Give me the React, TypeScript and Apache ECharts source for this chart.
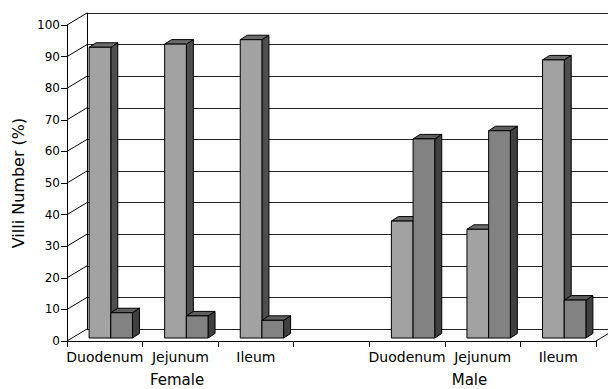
import React, { useEffect, useRef } from "react";
import * as echarts from "echarts";

// Segments along the intestine, with an empty slot separating the two groups
const categories = ["Duodenum", "Jejunum", "Ileum", "", "Duodenum", "Jejunum", "Ileum"];
const groupLabels = ["Female", "Male"];

// Villi share (%) per segment, two series that add up to 100
const lightValues: (number | null)[] = [92, 93, 94.4, null, 37, 34.4, 88];
const darkValues: (number | null)[] = [8, 7, 5.6, null, 63, 65.6, 12];

const yTicks = [0, 10, 20, 30, 40, 50, 60, 70, 80, 90, 100];
const yName = "Villi Number (%)";

const FONT = "DejaVu Sans";

// Perspective of the box: front plane vs back wall
const FRONT = { left: 67, top: 25, width: 529, height: 316 };
const DEPTH = { dx: 20, dy: -12 };
const BACK = {
  left: FRONT.left + DEPTH.dx,
  top: FRONT.top + DEPTH.dy,
  width: FRONT.width,
  height: FRONT.height,
};
// Bars sit a little behind the front plane and have their own thickness
const BAR_SHIFT = { dx: 6, dy: -3 };
const BAR_DEPTH = { dx: 7, dy: -4.5 };
const BAR_WIDTH_RATIO = 0.287;

const LIGHT = { front: "#a2a2a2", side: "#4e4e4e", top: "#6c6c6c" };
const DARK = { front: "#828282", side: "#404040", top: "#5e5e5e" };

const toPoints = (values: (number | null)[]) =>
  values
    .map((v, i) => (v == null ? null : [i, v]))
    .filter((d) => d !== null) as number[][];

const makeBarRenderer =
  (slot: 0 | 1, colors: { front: string; side: string; top: string }) =>
  (_params: any, api: any) => {
    const idx = api.value(0);
    const val = api.value(1);
    const base = api.coord([idx, 0]);
    const top = api.coord([idx, val]);
    const band = api.size([1, 0])[0];
    const w = band * BAR_WIDTH_RATIO;
    const cx = base[0] + BAR_SHIFT.dx;
    const x0 = slot === 0 ? cx - w : cx;
    const x1 = x0 + w;
    const yb = base[1] + BAR_SHIFT.dy;
    const yt = top[1] + BAR_SHIFT.dy;
    const { dx, dy } = BAR_DEPTH;
    const edge = { stroke: "#000", lineWidth: 1 };
    return {
      type: "group",
      children: [
        {
          type: "polygon",
          shape: { points: [[x1, yt], [x1 + dx, yt + dy], [x1 + dx, yb + dy], [x1, yb]] },
          style: { fill: colors.side, ...edge },
        },
        {
          type: "polygon",
          shape: { points: [[x0, yt], [x0 + dx, yt + dy], [x1 + dx, yt + dy], [x1, yt]] },
          style: { fill: colors.top, ...edge },
        },
        {
          type: "rect",
          shape: { x: x0, y: yt, width: w, height: yb - yt },
          style: { fill: colors.front, ...edge },
        },
      ],
    };
  };

// Side wall lines joining each front tick to the back wall, plus the floor's right edge
const renderFrame = (params: any, api: any) => {
  const sys = params.coordSys;
  const y = api.coord([0, api.value(1)])[1];
  const line = (x1: number, y1: number, x2: number, y2: number) => ({
    type: "line",
    shape: { x1, y1, x2, y2 },
    style: { stroke: "#000", lineWidth: 1 },
  });
  const children: any[] = [line(sys.x, y, sys.x + DEPTH.dx, y + DEPTH.dy)];
  if (params.dataIndex === 0) {
    const xr = sys.x + sys.width;
    children.push(line(xr, y, xr + DEPTH.dx, y + DEPTH.dy));
  }
  return { type: "group", children };
};

const option: any = {
  animation: false,
  backgroundColor: "#fff",
  grid: [
    { ...FRONT, containLabel: false },
    { ...BACK, containLabel: false },
  ],
  xAxis: [
    {
      type: "category",
      gridIndex: 0,
      data: categories,
      axisLine: { show: true, lineStyle: { color: "#000", width: 1 } },
      axisTick: { show: true, length: 6, interval: 0, lineStyle: { color: "#000" } },
      axisLabel: {
        interval: 0,
        margin: 9,
        color: "#000",
        fontFamily: FONT,
        fontSize: 14,
      },
      splitLine: { show: false },
    },
    {
      type: "category",
      gridIndex: 1,
      data: categories,
      show: false,
    },
  ],
  yAxis: [
    {
      type: "value",
      gridIndex: 0,
      min: 0,
      max: 100,
      interval: 10,
      name: yName,
      nameLocation: "middle",
      nameGap: 40,
      nameTextStyle: { color: "#000", fontFamily: FONT, fontSize: 16 },
      axisLine: { show: true, lineStyle: { color: "#000", width: 1 } },
      axisTick: { show: true, length: 6, lineStyle: { color: "#000" } },
      axisLabel: { margin: 7, color: "#000", fontFamily: FONT, fontSize: 12 },
      splitLine: { show: false },
    },
    {
      type: "value",
      gridIndex: 1,
      min: 0,
      max: 100,
      interval: 10,
      axisLine: { show: true, lineStyle: { color: "#000", width: 1 } },
      axisTick: { show: false },
      axisLabel: { show: false },
      splitLine: { show: true, lineStyle: { color: "#222", width: 1 } },
    },
  ],
  graphic: groupLabels.map((label, i) => ({
    type: "text",
    x: i === 0 ? 177 : 469.5,
    y: 380,
    style: {
      text: label,
      font: `15px "${FONT}"`,
      fill: "#000",
      textAlign: "center",
      textVerticalAlign: "middle",
      align: "center",
      verticalAlign: "middle",
    },
  })),
  series: [
    {
      type: "custom",
      name: "frame",
      xAxisIndex: 0,
      yAxisIndex: 0,
      silent: true,
      data: yTicks.map((v) => [0, v]),
      renderItem: renderFrame,
    },
    {
      type: "custom",
      name: "light",
      xAxisIndex: 0,
      yAxisIndex: 0,
      data: toPoints(lightValues),
      renderItem: makeBarRenderer(0, LIGHT),
    },
    {
      type: "custom",
      name: "dark",
      xAxisIndex: 0,
      yAxisIndex: 0,
      data: toPoints(darkValues),
      renderItem: makeBarRenderer(1, DARK),
    },
  ],
};

export default function App() {
  const ref = useRef<HTMLDivElement>(null);
  useEffect(() => {
    const chart = echarts.init(ref.current!, null, { renderer: "svg" });
    chart.setOption(option);
    return () => chart.dispose();
  }, []);
  return (
    <div
      ref={ref}
      style={{ position: "fixed", left: 0, top: 0, width: 608, height: 389, background: "#fff" }}
    />
  );
}
